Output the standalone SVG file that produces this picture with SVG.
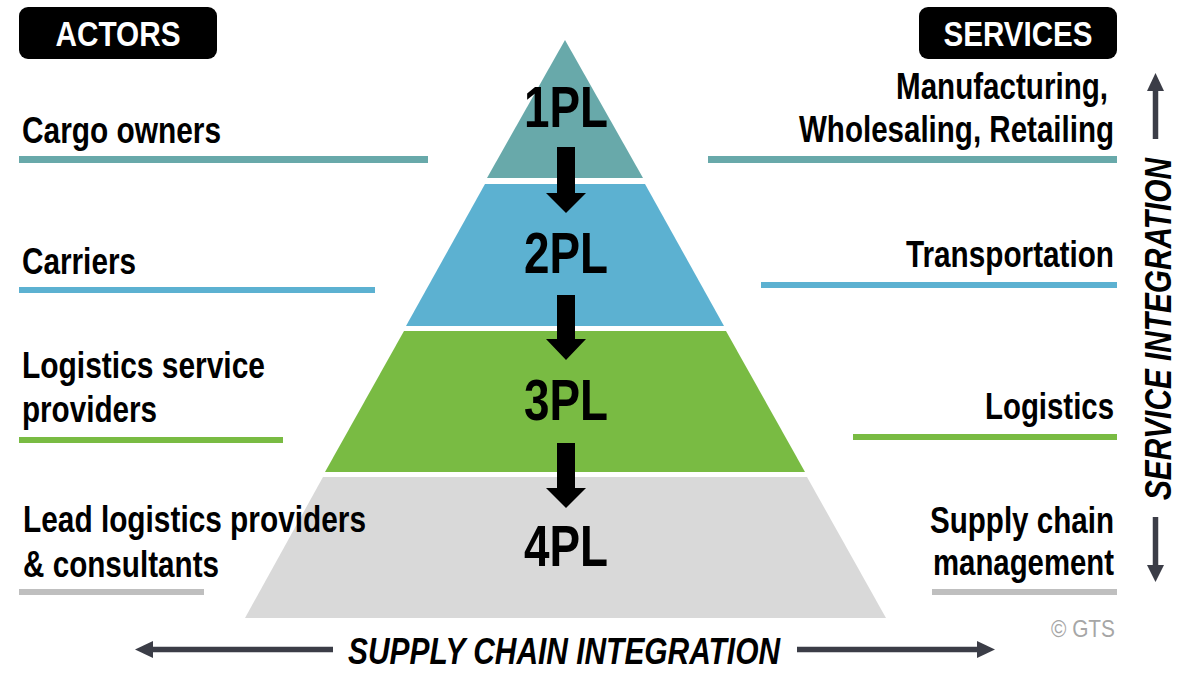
<svg xmlns="http://www.w3.org/2000/svg" width="1200" height="694" viewBox="0 0 1200 694">
<defs>
<style>
.t{font-family:"Liberation Sans",Arial,sans-serif;font-weight:bold;font-size:36px;fill:#000}
.h{font-family:"Liberation Sans",Arial,sans-serif;font-weight:bold;font-size:35px;fill:#fff}
.pl{font-family:"Liberation Sans",Arial,sans-serif;font-weight:bold;font-size:57px;fill:#000}
.it{font-family:"Liberation Sans",Arial,sans-serif;font-weight:bold;font-style:italic;font-size:37px;fill:#000}
.cp{font-family:"Liberation Sans",Arial,sans-serif;font-size:24px;fill:#A6A6A6}
.ax{stroke:#3B3D47;stroke-width:5.5;fill:none}
.ah{fill:#3B3D47}
.ba{fill:#000}
</style>
</defs>
<rect width="1200" height="694" fill="#fff"/>

<g id="actors-header">
<rect x="19" y="7" width="198" height="52" rx="9" fill="#000"/>
<text class="h" x="118" y="46" text-anchor="middle" textLength="125" lengthAdjust="spacingAndGlyphs">ACTORS</text>
</g>
<g id="services-header">
<rect x="919" y="7" width="198" height="52" rx="9" fill="#000"/>
<text class="h" x="1018" y="46" text-anchor="middle" textLength="149" lengthAdjust="spacingAndGlyphs">SERVICES</text>
</g>

<g id="tier1">
<polygon points="565,40 643,178 487,178" fill="#68A9AA"/>
<text class="pl" x="566" y="127" text-anchor="middle" textLength="84" lengthAdjust="spacingAndGlyphs">1PL</text>
</g>
<g id="tier2">
<polygon points="485,184 645,184 724,326 406,326" fill="#5CB1D1"/>
<text class="pl" x="566" y="273" text-anchor="middle" textLength="84" lengthAdjust="spacingAndGlyphs">2PL</text>
</g>
<g id="tier3">
<polygon points="404,331 726,331 805,472 325,472" fill="#79BB43"/>
<text class="pl" x="566" y="420" text-anchor="middle" textLength="84" lengthAdjust="spacingAndGlyphs">3PL</text>
</g>
<g id="tier4">
<polygon points="323,477 807,477 886,618 245,618" fill="#D9D9D9"/>
<text class="pl" x="566" y="566" text-anchor="middle" textLength="84" lengthAdjust="spacingAndGlyphs">4PL</text>
</g>

<g id="connectors">
<polygon class="ba" points="557,147 575,147 575,193 586,193 566,213 546,193 557,193"/>
<polygon class="ba" points="557,295 575,295 575,339 586,339 566,360 546,339 557,339"/>
<polygon class="ba" points="557,443 575,443 575,488 586,488 566,508 546,488 557,488"/>
</g>

<g id="actor-cargo">
<text class="t" x="22" y="143" textLength="199" lengthAdjust="spacingAndGlyphs">Cargo owners</text>
<rect x="19" y="156" width="409" height="7" fill="#68A9AA"/>
</g>
<g id="actor-carriers">
<text class="t" x="22" y="274" textLength="114" lengthAdjust="spacingAndGlyphs">Carriers</text>
<rect x="19" y="287" width="356" height="6" fill="#5CB1D1"/>
</g>
<g id="actor-lsp">
<text class="t" x="22" y="378" textLength="243" lengthAdjust="spacingAndGlyphs">Logistics service</text>
<text class="t" x="22" y="422" textLength="135" lengthAdjust="spacingAndGlyphs">providers</text>
<rect x="19" y="437" width="264" height="6" fill="#79BB43"/>
</g>
<g id="actor-llp">
<text class="t" x="23" y="532" textLength="343" lengthAdjust="spacingAndGlyphs">Lead logistics providers</text>
<text class="t" x="23" y="577" textLength="196" lengthAdjust="spacingAndGlyphs">&amp; consultants</text>
<rect x="19" y="589" width="185" height="6" fill="#BFBFBF"/>
</g>

<g id="service-mwr">
<text class="t" x="1108" y="99" text-anchor="end" textLength="212" lengthAdjust="spacingAndGlyphs">Manufacturing,</text>
<text class="t" x="1114" y="142" text-anchor="end" textLength="315" lengthAdjust="spacingAndGlyphs">Wholesaling, Retailing</text>
<rect x="708" y="156" width="409" height="7" fill="#68A9AA"/>
</g>
<g id="service-transport">
<text class="t" x="1114" y="267" text-anchor="end" textLength="208" lengthAdjust="spacingAndGlyphs">Transportation</text>
<rect x="761" y="282" width="356" height="6" fill="#5CB1D1"/>
</g>
<g id="service-logistics">
<text class="t" x="1114" y="419" text-anchor="end" textLength="129" lengthAdjust="spacingAndGlyphs">Logistics</text>
<rect x="853" y="434" width="264" height="6" fill="#79BB43"/>
</g>
<g id="service-scm">
<text class="t" x="1114" y="533" text-anchor="end" textLength="184" lengthAdjust="spacingAndGlyphs">Supply chain</text>
<text class="t" x="1114" y="575" text-anchor="end" textLength="181" lengthAdjust="spacingAndGlyphs">management</text>
<rect x="932" y="589" width="185" height="6" fill="#BFBFBF"/>
</g>

<g id="service-integration">
<line class="ax" x1="1155.5" y1="139" x2="1155.5" y2="88"/>
<polygon class="ah" points="1155.5,73 1164,91 1147,91"/>
<text class="it" transform="translate(1171,329) rotate(-90)" text-anchor="middle" textLength="342" lengthAdjust="spacingAndGlyphs">SERVICE INTEGRATION</text>
<line class="ax" x1="1155.5" y1="517" x2="1155.5" y2="568"/>
<polygon class="ah" points="1155.5,582 1164,565 1147,565"/>
</g>

<g id="supply-chain-integration">
<line class="ax" x1="333" y1="649.5" x2="150" y2="649.5"/>
<polygon class="ah" points="135,649.5 153,641 153,658"/>
<text class="it" x="564" y="664" text-anchor="middle" textLength="432" lengthAdjust="spacingAndGlyphs">SUPPLY CHAIN INTEGRATION</text>
<line class="ax" x1="797" y1="649.5" x2="980" y2="649.5"/>
<polygon class="ah" points="995,649.5 977,641 977,658"/>
</g>

<g id="copyright">
<text class="cp" x="1115" y="637" text-anchor="end" textLength="64" lengthAdjust="spacingAndGlyphs">© GTS</text>
</g>
</svg>
